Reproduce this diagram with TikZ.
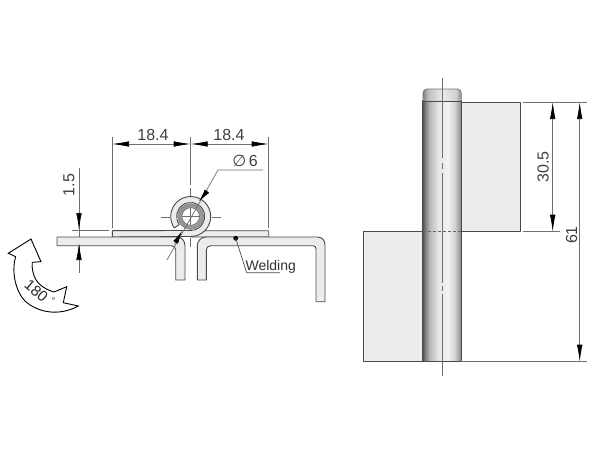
\documentclass[tikz,border=0pt]{standalone}
\usepackage{fontspec}
\setmainfont{Liberation Sans}
\newfontfamily\symfont{DejaVu Sans}
\usetikzlibrary{arrows.meta}
\pgfdeclarehorizontalshading{pinshade}{100bp}{color(0bp)=(black!68); color(25bp)=(black!68); color(28bp)=(black!52); color(34bp)=(black!28); color(45bp)=(black!10); color(58bp)=(black!5); color(67bp)=(black!18); color(75bp)=(black!45); color(100bp)=(black!45)}
\pgfdeclarehorizontalshading{capshade}{100bp}{color(0bp)=(black!50); color(25bp)=(black!50); color(32bp)=(black!25); color(50bp)=(black!8); color(68bp)=(black!18); color(75bp)=(black!45); color(100bp)=(black!45)}
\definecolor{plate}{HTML}{ECECEC}
\definecolor{edge}{HTML}{4A4A4A}
\definecolor{dimline}{HTML}{707070}
\tikzset{
  sheet/.style={draw=edge,line width=0.9pt,fill=plate,line join=round},
  dimthin/.style={draw=dimline,line width=0.7pt},
  dimtip/.style={draw=dimline,line width=0.7pt,-{Latex[length=17pt,width=5.5pt,black]}},
  dimlabel/.style={font=\fontsize{16}{16}\selectfont,text=black!75,inner sep=0pt},
  centre/.style={draw=dimline,line width=0.8pt},
}
\begin{document}
\begin{tikzpicture}[x=1pt,y=-1pt]
\useasboundingbox[fill=white] (0,0) rectangle (600,450);

% ---------- end view ----------
\coordinate (hc) at (190.7,216.5);
\draw[dimthin] (112,137) -- (112,228);
\draw[dimthin] (268.7,137) -- (268.7,228);
\draw[dimthin] (72,230) -- (109,230);
\draw[dimthin] (79,168) -- (79,272.7);

\draw[centre] (190.7,137) -- (190.7,185);
\draw[centre] (190.7,188) -- (190.7,197);
\draw[centre] (190.7,238) -- (190.7,247);
\draw[centre] (160.7,217.7) -- (170,217.7);
\draw[centre] (211.7,217.7) -- (220.7,217.7);

\draw[sheet] (204.8,230.7) -- (268.7,230.7) -- (268.7,237) -- (190.7,237) -- cycle;
\draw[sheet] (112.3,237) -- (190.7,236.5) arc[start angle=270,end angle=575,radius=20pt]
  -- (179.2,224.5) arc[start angle=215,end angle=-90,radius=14pt] -- (112.3,230.7) -- cycle;
\shade[outer color=black!45,inner color=black!22] (hc) circle[radius=13pt];
\draw[black!45,line width=0.5pt] (hc) circle[radius=13pt];
\draw[black!60,line width=0.6pt,fill=white] (hc) circle[radius=8.8pt];
\draw[centre,line width=0.5pt] (182,216.5) -- (199.4,216.5);
\draw[centre,line width=0.5pt] (190.7,207.8) -- (190.7,225.2);
\draw[sheet] (57,237) -- (177,237) .. controls (182,237) and (185,241) .. (185,246)
  -- (185,280) -- (175.7,280) -- (175.7,250) .. controls (175.7,247.5) and (174,245.7) .. (171,245.7)
  -- (57,245.7) -- cycle;
\draw[sheet] (197.3,280) -- (197.3,246) .. controls (197.3,241) and (201,237) .. (206,237)
  -- (317,237) .. controls (322,237) and (325,240) .. (325,245) -- (325,301.7) -- (316,301.7)
  -- (316,249) .. controls (316,247) and (315,245.7) .. (313,245.7) -- (211,245.7)
  .. controls (208,245.7) and (206.3,247.5) .. (206.3,250) -- (206.3,280) -- cycle;

\coordinate (dl) at (112,144); \coordinate (dm) at (190.7,144); \coordinate (dr) at (268.7,144);
\draw[dimtip] (131,144) -- (dl);
\draw[dimtip] (172,144) -- (dm);
\draw[dimtip] (209,144) -- (dm);
\draw[dimtip] (250,144) -- (dr);
\draw[dimthin] (131,144) -- (172,144);
\draw[dimthin] (209,144) -- (250,144);
\node[dimlabel] (t184a) at (153,135) {18.4};
\node[dimlabel] (t184b) at (229,135) {18.4};

\draw[dimtip] (79,212) -- (79,230);
\draw[dimtip] (79,255) -- (79,243);
\node[dimlabel,rotate=90] (t15) at (69,185) {1.5};

\draw[dimthin] (263,170) -- (218,170) -- (167,260);
\draw[dimtip,-{Latex[length=13pt,width=5.5pt,black]}] (207.5,190.5) -- (199,201.5);
\draw[dimtip,-{Latex[length=13pt,width=5.5pt,black]}] (174.5,244.5) -- (182,231);
\node[dimlabel] (tphi) at (245,161) {{\symfont\fontsize{16}{16}\selectfont ∅}\,6};

\fill[black] (235.7,238.3) circle[radius=2.4pt];
\draw[dimthin,draw=black!70] (235.7,238.3) -- (246.7,272.7) -- (280,272.7);
\node[inner sep=0pt,font=\fontsize{14}{14}\selectfont,text=black!80] (tw) at (270.7,266.7) {Welding};

\draw[fill=white,draw=black,line width=0.9pt,line join=miter]
  (31,239) -- (8.3,253.3) -- (15.7,256.7)
  .. controls (11,272) and (16,292) .. (25,301)
  .. controls (37,312) and (58,317) .. (78.3,306)
  -- (63.3,302.7) -- (66.7,286.7) -- (54,292)
  .. controls (44,289) and (35,283) .. (33,272)
  .. controls (32,268) and (32,265) .. (32.3,262.3)
  -- (41,261.7) -- cycle;
\node[inner sep=0pt,rotate=-40,font=\fontsize{15}{15}\selectfont,text=black!85] (t180) at (36.2,291) {180};
\node[inner sep=0pt,font=\fontsize{10}{10}\selectfont,text=black!70] (tdeg) at (53.5,301) {°};

% ---------- side view ----------
\draw[sheet] (461,102) rectangle (520.3,231.7);
\draw[sheet] (363.3,231.7) rectangle (422.7,361.7);
\shade[shading=pinshade] (422.7,100) rectangle (461,361.7);
\draw[edge,line width=0.9pt] (422.7,100) -- (422.7,361.7) -- (461,361.7) -- (461,100);
\draw[black!60,line width=0.8pt,densely dashed] (422.7,231.7) -- (461,231.7);
\shade[shading=capshade,rounded corners=4pt] (423,89) rectangle (461.3,101.7);
\draw[black!55,line width=0.7pt,rounded corners=4pt] (423,101.7) -- (423,89) -- (461.3,89) -- (461.3,101.7);
\draw[edge,line width=1pt] (423,101.7) -- (461.3,101.7);
\draw[centre] (442,78) -- (442,158);
\draw[centre] (442,163) -- (442,169);
\draw[centre] (442,173) -- (442,283);
\draw[centre] (442,285.5) -- (442,290.7);
\draw[centre] (442,294) -- (442,376);
\draw[dimthin] (523,102) -- (587,102);
\draw[dimthin] (523,231.7) -- (560,231.7);
\draw[dimthin] (461,361.7) -- (587,361.7);
\draw[dimtip] (552.7,121) -- (552.7,102);
\draw[dimtip] (552.7,213) -- (552.7,231.7);
\draw[dimthin] (552.7,121) -- (552.7,213);
\node[dimlabel,rotate=90] (t305) at (543,166.7) {30.5};
\draw[dimtip] (579.7,121) -- (579.7,102);
\draw[dimtip] (579.7,343) -- (579.7,361.7);
\draw[dimthin] (579.7,121) -- (579.7,343);
\node[dimlabel,rotate=90] (t61) at (571.7,235) {61};
\end{tikzpicture}
\end{document}
